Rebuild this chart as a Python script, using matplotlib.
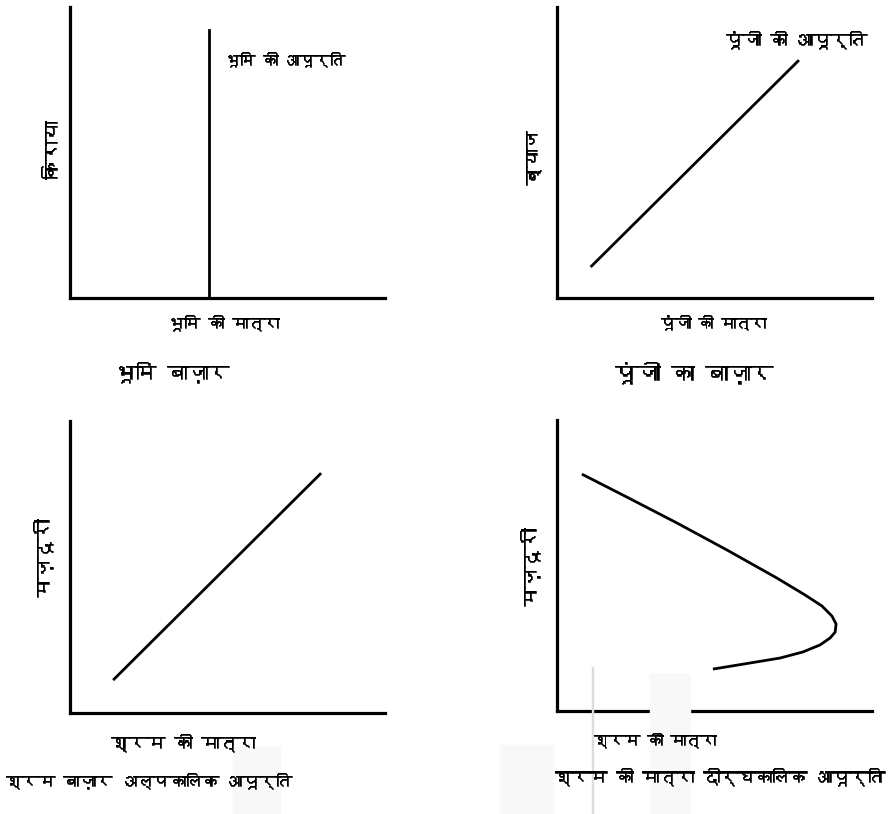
import matplotlib
matplotlib.use('Agg')
import matplotlib.pyplot as plt
import matplotlib.patheffects as pe
from matplotlib import font_manager
from matplotlib.ft2font import FT2Font
from matplotlib.patches import Rectangle


# pick any installed face that actually carries Devanagari glyphs
def deva_font():
	for f in font_manager.fontManager.ttflist:
		try:
			if 0x0915 in FT2Font(f.fname).get_charmap():
				return f.name
		except Exception:
			pass
	return None

fam = deva_font()
plt.rcParams['font.family'] = ([fam] if fam else []) + ['DejaVu Sans']

''' **************************************************************** '''

# भूमि बाज़ार - पूर्णतः बेलोचदार आपूर्ति
land_x = [44, 44]
land_y = [0, 92]

# पूंजी का बाज़ार
cap_x = [11, 76.5]
cap_y = [11, 81.4]

# श्रम - अल्पकालिक
lab_x = [14, 79.4]
lab_y = [11.6, 81.8]

# श्रम - दीर्घकालिक (पीछे मुड़ता वक्र)
long_x = [7.9, 22.2, 38.1, 54.0, 69.8, 78.7, 84.1, 87.3, 88.6, 88.3, 86.7, 83.5, 78.1, 70.8, 61.3, 49.5]
long_y = [81.4, 73.5, 64.6, 55.3, 45.7, 39.9, 36.1, 32.6, 29.9, 27.1, 25.1, 22.7, 20.3, 18.2, 16.5, 14.4]

W, H = 894, 814

fig = plt.figure(figsize=(W / 100, H / 100), dpi=100)


def make_ax(x0, y_top, x1, y_bot):
	ax = fig.add_axes([x0 / W, 1 - y_bot / H, (x1 - x0) / W, (y_bot - y_top) / H])
	ax.set_xlim(0, 100)
	ax.set_ylim(0, 100)
	for s in ['top', 'right']:
		ax.spines[s].set_visible(False)
	for s in ['left', 'bottom']:
		ax.spines[s].set_linewidth(2.3)
	ax.set_xticks([])
	ax.set_yticks([])
	ax.patch.set_alpha(0)
	return ax


# thin face -> thicken a little with a stroke
thick = [pe.withStroke(linewidth=0.4, foreground='black')]


def txt(x, y, s, size, **kw):
	fig.text(x / W, 1 - y / H, s, fontsize=size, ha='center', va='center', path_effects=thick, **kw)


# faint background marks along the bottom
bg = '#f8f8f8'
fig.patches.append(Rectangle((500 / W, 0), 53 / W, (814 - 745) / H, transform=fig.transFigure, color=bg, zorder=0))
fig.patches.append(Rectangle((650 / W, 0), 40 / W, (814 - 674) / H, transform=fig.transFigure, color=bg, zorder=0))
fig.patches.append(Rectangle((233 / W, 0), 47 / W, (814 - 747) / H, transform=fig.transFigure, color=bg, zorder=0))
fig.patches.append(Rectangle((592 / W, 0), 1.0 / W, (814 - 667) / H, transform=fig.transFigure, color='#dcdcdc', zorder=0))

# 1
a1 = make_ax(70, 7, 385, 298)
a1.plot(land_x, land_y, color='black', lw=2.0)
txt(285, 60, 'भूमि की आपूर्ति', 10.8)
txt(52, 150, 'किराया', 14, rotation=90)
txt(224, 323, 'भूमि की मात्रा', 11.4)
txt(172, 373, 'भूमि बाज़ार', 15)

# 2
a2 = make_ax(557, 7, 872, 298)
a2.plot(cap_x, cap_y, color='black', lw=2.0)
txt(796, 40, 'पूंजी की आपूर्ति', 12.7)
txt(533, 158, 'ब्याज', 13, rotation=90)
txt(713, 323, 'पूंजी की मात्रा', 10.8)
txt(694, 373, 'पूंजी का बाज़ार', 16.3)

# 3
a3 = make_ax(70, 421, 385, 713)
a3.plot(lab_x, lab_y, color='black', lw=2.0)
txt(43, 558, 'मज़दूरी', 14, rotation=90)
txt(183, 742, 'श्रम की मात्रा', 13)
txt(149, 781, 'श्रम बाज़ार अल्पकालिक आपूर्ति', 11.8)

# 4
a4 = make_ax(557, 420, 872, 711)
a4.plot(long_x, long_y, color='black', lw=2.0, solid_joinstyle='round', solid_capstyle='butt')
txt(530, 567, 'मज़दूरी', 14, rotation=90)
txt(655, 740, 'श्रम की मात्रा', 11)
txt(720, 777, 'श्रम की मात्रा दीर्घकालिक आपूर्ति', 12.5)

plt.savefig('out.png', dpi=100)
